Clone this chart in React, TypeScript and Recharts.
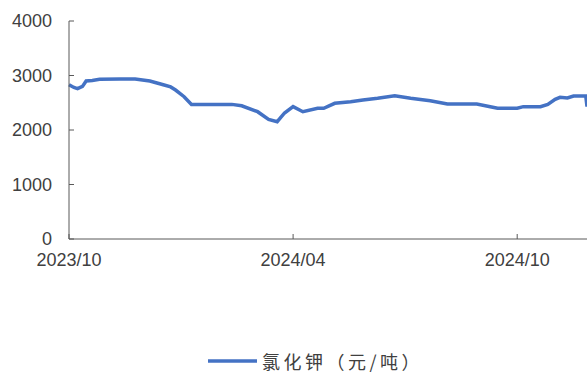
import { Legend, Line, LineChart, XAxis, YAxis } from "recharts";

// days since 2023/10/01
const days = [
  0, 4, 7, 11, 14, 19, 25, 42, 54, 60, 66, 77, 83, 87, 94, 100, 133, 141, 154, 163, 170, 176, 183, 191,
  203, 208, 217, 230, 240, 252, 266, 279, 295, 309, 319, 333, 344, 350, 366, 371, 385, 391, 397, 401,
  407, 412, 422, 423,
];
const kclPrice = [
  2830, 2780, 2760, 2800, 2900, 2910, 2930, 2935, 2935, 2917, 2900, 2830, 2790, 2734, 2611, 2470, 2470,
  2445, 2336, 2196, 2152, 2312, 2428, 2336, 2398, 2398, 2490, 2520, 2550, 2581, 2630, 2581, 2538, 2477,
  2477, 2477, 2428, 2398, 2398, 2428, 2428, 2470, 2563, 2600, 2587, 2624, 2624, 2428,
];
const xTicks = [0, 183, 366];
const xTickLabels = ["2023/10", "2024/04", "2024/10"];
const yTicks = [0, 1000, 2000, 3000, 4000];
const seriesName = "氯化钾（元/吨）";

const data = days.map((d, i) => ({ day: d, price: kclPrice[i] }));

const axisColor = "#595959";
const textColor = "#404040";
const lineColor = "#4472C4";

function LegendBox() {
  return (
    <div style={{ display: "flex", alignItems: "center", paddingLeft: 208, height: 26 }}>
      <svg width={54} height={10}>
        <line x1={0} y1={5} x2={49} y2={5} stroke={lineColor} strokeWidth={3.5} />
      </svg>
      <span
        style={{
          fontFamily: "'Noto Sans CJK SC'",
          fontSize: 18,
          letterSpacing: 3.5,
          color: textColor,
          lineHeight: "26px",
        }}
      >
        {seriesName}
      </span>
    </div>
  );
}

export default function App() {
  return (
    <div style={{ position: "absolute", left: 0, top: 0, background: "#fff" }}>
      <LineChart width={587} height={374} data={data} margin={{ top: 21, right: 0, left: 0, bottom: 69 }}>
        <XAxis
          dataKey="day"
          type="number"
          domain={[0, 423]}
          ticks={xTicks}
          tickFormatter={(v) => xTickLabels[xTicks.indexOf(v)] ?? ""}
          tick={{ fontSize: 18, fill: textColor, fontFamily: "'Liberation Sans', Arial" }}
          tickSize={-5}
          tickMargin={19}
          stroke={axisColor}
          height={40}
        />
        <YAxis
          domain={[0, 4000]}
          ticks={yTicks}
          width={69}
          tick={{ fontSize: 18, fill: textColor, fontFamily: "'Liberation Sans', Arial" }}
          tickSize={-5}
          tickMargin={22}
          stroke={axisColor}
        />
        <Legend
          verticalAlign="bottom"
          content={() => <LegendBox />}
          wrapperStyle={{ bottom: 0, left: 0, width: 587, height: 26 }}
        />
        <Line
          type="linear"
          dataKey="price"
          stroke={lineColor}
          strokeWidth={3.5}
          dot={false}
          isAnimationActive={false}
        />
      </LineChart>
    </div>
  );
}
